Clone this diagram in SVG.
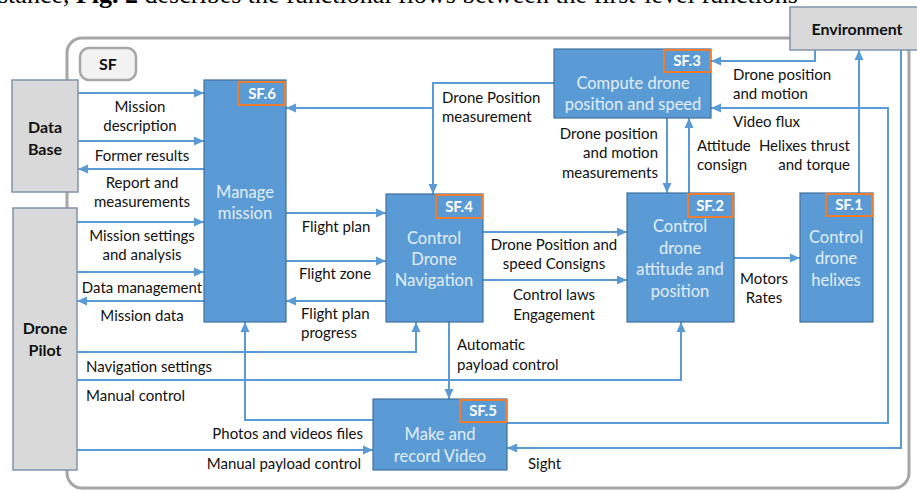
<svg xmlns="http://www.w3.org/2000/svg" width="917" height="490" viewBox="0 0 917 490">
<defs>
<marker id="ah" markerUnits="userSpaceOnUse" markerWidth="11" markerHeight="10" refX="10" refY="5" orient="auto">
<path d="M0,0.5 L10,5 L0,9.5 z" fill="#5b9bd5"/>
</marker>
<style>
.top{font-family:"Liberation Serif",serif;font-size:26px;fill:#000}
.lbl{font-family:Lato,"Open Sans",sans-serif;font-size:15px;fill:#111}
.c{text-anchor:middle}
.r{text-anchor:end}
.fn rect.b{fill:#5b9bd5;stroke:#41719c;stroke-width:1.2}
.fn rect.t{fill:#5b9bd5;stroke:#ed7d31;stroke-width:2}
.fn text.n{font-family:Lato,"Open Sans",sans-serif;font-size:16.5px;fill:#e2eef9;text-anchor:middle}
.fn text.id{font-family:Lato,"Open Sans",sans-serif;font-size:15px;font-weight:bold;fill:#fff;text-anchor:middle}
.ext rect{fill:#d9d9d9;stroke:#7f93ac;stroke-width:1.5}
.ext text{font-family:Lato,"Open Sans",sans-serif;font-size:16px;font-weight:bold;fill:#111;text-anchor:middle}
#connectors path{fill:none;stroke:#5b9bd5;stroke-width:2;marker-end:url(#ah)}
</style>
</defs>
<rect width="917" height="490" fill="#fff"/>
<text class="top" x="-2" y="3">stance, <tspan font-weight="bold">Fig. 2</tspan> describes the functional flows between the first-level functions</text>

<g id="frame">
<rect x="67" y="38" width="842" height="450" rx="15" fill="none" stroke="#a6a6a6" stroke-width="3"/>
<rect x="80" y="48" width="56" height="32" rx="9" fill="#f2f2f2" stroke="#a6a6a6" stroke-width="2.5"/>
<text x="108" y="70" font-family="Lato,'Open Sans',sans-serif" font-size="16" font-weight="bold" fill="#111" text-anchor="middle">SF</text>
</g>

<g id="connectors">
<path d="M78,93 H204"/>
<path d="M78,141 H204"/>
<path d="M204,169 H78"/>
<path d="M77,222 H204"/>
<path d="M77,272 H204"/>
<path d="M204,301 H77"/>
<path d="M286,213 H386"/>
<path d="M286,261 H386"/>
<path d="M386,301 H286"/>
<path d="M554,83 H433 V194"/>
<path d="M433,108 H286"/>
<path d="M483,232 H627"/>
<path d="M483,280 H627"/>
<path d="M449,322 V399"/>
<path d="M667,118 V193"/>
<path d="M689,193 V118"/>
<path d="M734,258 H800"/>
<path d="M859,193 V50"/>
<path d="M815,50 V61 H711"/>
<path d="M507,423 H888 V108 H711"/>
<path d="M901,50 V448 H507"/>
<path d="M77,352 H416 V322"/>
<path d="M77,380 H681 V322"/>
<path d="M77,450 H373"/>
<path d="M373,420 H245 V322"/>
</g>

<g id="labels">
<text class="lbl c" x="140" y="112">Mission</text>
<text class="lbl c" x="140" y="131">description</text>
<text class="lbl c" x="142" y="161">Former results</text>
<text class="lbl c" x="142" y="188">Report and</text>
<text class="lbl c" x="142" y="207">measurements</text>
<text class="lbl c" x="142" y="241">Mission settings</text>
<text class="lbl c" x="142" y="260">and analysis</text>
<text class="lbl c" x="142" y="293">Data management</text>
<text class="lbl c" x="142" y="321">Mission data</text>
<text class="lbl" x="86" y="372">Navigation settings</text>
<text class="lbl" x="86" y="401">Manual control</text>
<text class="lbl r" x="363" y="439">Photos and videos files</text>
<text class="lbl r" x="361" y="469">Manual payload control</text>
<text class="lbl c" x="336" y="232">Flight plan</text>
<text class="lbl c" x="335" y="279">Flight zone</text>
<text class="lbl" x="301" y="319">Flight plan</text>
<text class="lbl" x="301" y="338">progress</text>
<text class="lbl" x="442" y="103">Drone Position</text>
<text class="lbl" x="442" y="122">measurement</text>
<text class="lbl c" x="554" y="250">Drone Position and</text>
<text class="lbl c" x="554" y="269">speed Consigns</text>
<text class="lbl c" x="554" y="300">Control laws</text>
<text class="lbl c" x="554" y="320">Engagement</text>
<text class="lbl" x="457" y="350">Automatic</text>
<text class="lbl" x="457" y="370">payload control</text>
<text class="lbl r" x="658" y="139">Drone position</text>
<text class="lbl r" x="658" y="158">and motion</text>
<text class="lbl r" x="658" y="178">measurements</text>
<text class="lbl" x="697" y="151">Attitude</text>
<text class="lbl" x="697" y="170">consign</text>
<text class="lbl r" x="850" y="151">Helixes thrust</text>
<text class="lbl r" x="850" y="170">and torque</text>
<text class="lbl" x="733" y="80">Drone position</text>
<text class="lbl" x="733" y="99">and motion</text>
<text class="lbl" x="733" y="127">Video flux</text>
<text class="lbl c" x="764" y="284">Motors</text>
<text class="lbl c" x="764" y="303">Rates</text>
<text class="lbl" x="528" y="469">Sight</text>
</g>

<g id="database" class="ext">
<rect x="12" y="80" width="66" height="112"/>
<text x="45" y="133">Data</text>
<text x="45" y="155">Base</text>
</g>
<g id="dronepilot" class="ext">
<rect x="13" y="208" width="64" height="262"/>
<text x="45" y="334">Drone</text>
<text x="45" y="356">Pilot</text>
</g>
<g id="environment" class="ext">
<rect x="790" y="7" width="128" height="43"/>
<text x="857" y="35">Environment</text>
</g>

<g id="sf6" class="fn">
<rect class="b" x="204" y="80" width="82" height="242"/>
<rect class="t" x="238" y="82" width="47" height="23"/>
<text class="id" x="262" y="99">SF.6</text>
<text class="n" x="245" y="198">Manage</text>
<text class="n" x="245" y="219">mission</text>
</g>
<g id="sf4" class="fn">
<rect class="b" x="386" y="194" width="97" height="128"/>
<rect class="t" x="436" y="195" width="46" height="23"/>
<text class="id" x="459" y="212">SF.4</text>
<text class="n" x="434" y="244">Control</text>
<text class="n" x="434" y="265">Drone</text>
<text class="n" x="434" y="286">Navigation</text>
</g>
<g id="sf3" class="fn">
<rect class="b" x="554" y="49" width="157" height="69"/>
<rect class="t" x="664" y="50" width="46" height="22"/>
<text class="id" x="687" y="66">SF.3</text>
<text class="n" x="633" y="89">Compute drone</text>
<text class="n" x="633" y="110">position and speed</text>
</g>
<g id="sf2" class="fn">
<rect class="b" x="627" y="193" width="107" height="129"/>
<rect class="t" x="688" y="194" width="45" height="23"/>
<text class="id" x="710" y="211">SF.2</text>
<text class="n" x="680" y="232">Control</text>
<text class="n" x="680" y="254">drone</text>
<text class="n" x="680" y="275">attitude and</text>
<text class="n" x="680" y="297">position</text>
</g>
<g id="sf1" class="fn">
<rect class="b" x="800" y="193" width="73" height="129"/>
<rect class="t" x="826" y="194" width="46" height="22"/>
<text class="id" x="849" y="210">SF.1</text>
<text class="n" x="836" y="243">Control</text>
<text class="n" x="836" y="264">drone</text>
<text class="n" x="836" y="286">helixes</text>
</g>
<g id="sf5" class="fn">
<rect class="b" x="373" y="399" width="134" height="71"/>
<rect class="t" x="460" y="400" width="46" height="22"/>
<text class="id" x="483" y="416">SF.5</text>
<text class="n" x="440" y="440">Make and</text>
<text class="n" x="440" y="462">record Video</text>
</g>
</svg>
